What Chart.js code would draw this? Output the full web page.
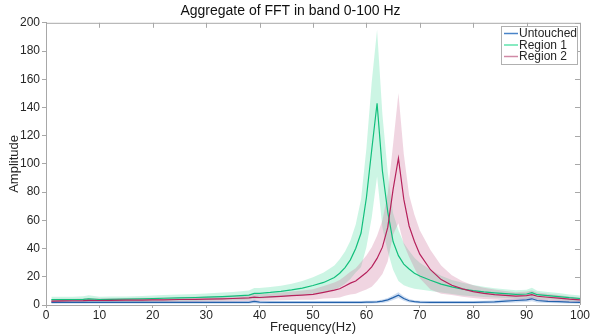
<!DOCTYPE html>
<html>
<head>
<meta charset="utf-8">
<script src="https://cdn.jsdelivr.net/npm/chart.js@4.4.0/dist/chart.umd.min.js"></script>
<style>
  html, body { margin: 0; padding: 0; background: #fff; }
  #wrap { width: 590px; height: 336px; }
</style>
</head>
<body>
<div id="wrap"><canvas id="fftChart" width="590" height="336"></canvas></div>
<script>
// datos (Hz)
const freq = [1,3,5,7,8,10,12,15,18,20,
  22,25,28,30,33,35,38,39,40,42,
  44,46,48,50,52,54,55,56,57,58,
  59,60,61,62,63,64,65,66,67,68,
  69,70,72,74,76,78,80,82,84,86,
  88,90,91,92,94,96,98,100];

const untouched = [1.8,1.8,1.8,1.8,1.9,1.8,1.8,1.8,1.8,1.8,
  1.8,1.8,1.8,1.8,1.8,1.8,1.9,2.6,2.0,1.8,
  1.8,1.8,1.8,1.8,1.8,1.8,1.8,1.8,1.9,1.9,
  1.9,2.0,2.1,2.2,2.7,3.6,5.2,7.0,4.6,3.0,
  2.4,2.1,1.9,1.9,1.9,1.9,1.9,2.0,2.2,2.8,
  3.2,3.6,4.4,3.2,2.6,2.4,2.0,1.8];
const untouchedSd = [1.0,1.0,1.0,1.0,1.0,1.0,1.0,1.0,1.0,1.0,
  1.0,1.0,1.0,1.0,1.0,1.0,1.1,1.3,1.1,1.0,
  1.0,1.0,1.0,1.0,1.0,1.0,1.0,1.0,1.0,1.0,
  1.0,1.0,1.0,1.0,1.2,1.4,1.7,2.0,1.6,1.2,
  1.0,1.0,1.0,1.0,1.0,1.0,1.0,1.0,1.1,1.3,
  1.4,1.5,1.7,1.4,1.2,1.1,1.0,1.0];

const region1 = [3.8,3.8,3.9,4.0,4.4,3.9,4.0,4.1,4.3,4.5,
  4.8,5.0,5.3,5.6,6.0,6.3,7.0,8.2,8.3,8.9,
  9.7,10.7,12.0,13.8,16.0,19.5,22.5,26.5,32,40,
  51,76,110,143,95,66,45,35,29,25.5,
  22.5,20.5,17.5,14.8,12.8,11.3,10.2,9.3,8.6,8.0,
  7.5,7.8,8.8,7.3,6.6,6.0,5.2,4.6];
const region1Sd = [2.0,2.0,2.0,2.2,2.5,2.0,2.0,2.0,2.1,2.2,
  2.3,2.4,2.5,2.6,2.8,3.0,3.2,3.8,3.8,3.9,
  4.0,4.4,5.0,5.8,7.0,8.5,10,11.5,13.5,17,
  24,35,48,52,40,28,20,18,15,13,
  11,9.5,7.5,6.0,5.0,4.5,4.0,3.6,3.3,3.1,
  2.9,3.0,3.5,2.8,2.6,2.5,2.3,2.2];

const region2 = [2.8,2.9,3.0,3.1,3.3,3.2,3.3,3.4,3.5,3.6,
  3.7,3.9,4.0,4.2,4.4,4.6,5.0,5.6,5.3,5.7,
  6.1,6.6,7.0,7.5,9.0,10.5,11.5,13.5,15.5,17,
  20,23,27,33,41,55,82,104,75,56,
  45,36,25,18,14,11.4,9.5,8.3,7.4,6.8,
  6.3,6.7,7.3,6.2,5.5,4.9,4.1,3.6];
const region2Sd = [1.5,1.5,1.5,1.5,1.6,1.5,1.5,1.5,1.6,1.6,
  1.7,1.8,1.8,1.9,2.0,2.1,2.2,2.5,2.3,2.5,
  2.7,3.0,3.3,3.7,4.4,5.5,6.2,7.0,8.0,9.0,
  10.5,12,14,16,19,24,32,46,32,22,
  19,17,14,10,7,5.5,4.5,4.0,3.5,3.1,
  2.8,2.8,3.0,2.6,2.4,2.2,2.0,1.8];

const xTicks = [0,10,20,30,40,50,60,70,80,90,100];
const yTicks = [0,20,40,60,80,100,120,140,160,180,200];

const seriesNames = ['Untouched', 'Region 1', 'Region 2'];
const lineColors = ['#2361aa', '#12bf7c', '#b6225c'];
const legendColors = ['#4a84c8', '#5fe3ad', '#d08aa6'];
const bandColors = ['rgba(110,155,215,0.35)', 'rgba(95,225,170,0.32)', 'rgba(205,115,155,0.30)'];

const fuente = '"Liberation Sans", Arial, Helvetica, sans-serif';
const colorTexto = '#262626';
const colorEje = '#a8a8a8';

function puntos(vals) {
  return freq.map((f, i) => ({ x: f, y: vals[i] }));
}

function banda(media, sd, color, orden) {
  const arriba = freq.map((f, i) => ({ x: f, y: media[i] + sd[i] }));
  const abajo = freq.map((f, i) => ({ x: f, y: Math.max(0, media[i] - sd[i]) }));
  return [
    { data: arriba, borderWidth: 0, pointRadius: 0, fill: '+1', backgroundColor: color, order: orden },
    { data: abajo, borderWidth: 0, pointRadius: 0, fill: false, order: orden }
  ];
}

function linea(media, color) {
  return { data: puntos(media), borderColor: color, borderWidth: 1.2, pointRadius: 0, fill: false, tension: 0, order: 0 };
}

const datasets = [
  ...banda(untouched, untouchedSd, bandColors[0], 3),
  ...banda(region1, region1Sd, bandColors[1], 2),
  ...banda(region2, region2Sd, bandColors[2], 1),
  linea(region2, lineColors[2]),
  linea(region1, lineColors[1]),
  linea(untouched, lineColors[0])
];

// caja tipo matlab + leyenda
const cajaPlugin = {
  id: 'caja',
  afterDraw(chart) {
    const ctx = chart.ctx;
    const a = chart.chartArea;
    const xs = chart.scales.x, ys = chart.scales.y;
    ctx.save();
    ctx.strokeStyle = colorEje;
    ctx.lineWidth = 1;
    ctx.beginPath();
    ctx.moveTo(a.left, a.top + 0.5);
    ctx.lineTo(a.right + 0.5, a.top + 0.5);
    ctx.lineTo(a.right + 0.5, a.bottom);
    xTicks.forEach(t => {
      const px = Math.round(xs.getPixelForValue(t)) + 0.5;
      ctx.moveTo(px, a.top);
      ctx.lineTo(px, a.top + 5);
    });
    yTicks.forEach(t => {
      const py = Math.round(ys.getPixelForValue(t)) + 0.5;
      ctx.moveTo(a.right, py);
      ctx.lineTo(a.right - 5, py);
    });
    ctx.stroke();

    // leyenda
    const lx = 501, ly = 26, lw = 76, lh = 38;
    ctx.fillStyle = '#fff';
    ctx.fillRect(lx, ly, lw, lh);
    ctx.strokeStyle = '#b0b0b0';
    ctx.strokeRect(lx + 0.5, ly + 0.5, lw, lh);
    ctx.font = '12px ' + fuente;
    ctx.textBaseline = 'middle';
    seriesNames.forEach((n, i) => {
      const y = ly + 7.5 + i * 11.5;
      ctx.strokeStyle = legendColors[i];
      ctx.lineWidth = 1.5;
      ctx.beginPath();
      ctx.moveTo(lx + 3, y);
      ctx.lineTo(lx + 17, y);
      ctx.stroke();
      ctx.fillStyle = colorTexto;
      ctx.fillText(n, lx + 18, y + 0.5);
    });
    ctx.restore();
  }
};

new Chart(document.getElementById('fftChart'), {
  type: 'line',
  data: { datasets: datasets },
  plugins: [cajaPlugin],
  options: {
    responsive: false,
    animation: false,
    layout: { padding: { left: 0, right: 9, top: 0, bottom: 0 } },
    plugins: {
      legend: { display: false },
      tooltip: { enabled: false },
      title: {
        display: true,
        text: 'Aggregate of FFT in band 0-100 Hz',
        color: '#111',
        font: { family: fuente, size: 14, weight: 'normal', lineHeight: 1.2 },
        padding: { top: 3, bottom: 3 }
      },
      filler: { propagate: false }
    },
    scales: {
      x: {
        type: 'linear',
        min: 0,
        max: 100,
        afterBuildTicks: s => { s.ticks = xTicks.map(v => ({ value: v })); },
        afterFit: s => { s.height = 31; },
        grid: { drawOnChartArea: false, color: colorEje, tickLength: 3 },
        border: { color: colorEje },
        ticks: { color: colorTexto, font: { family: fuente, size: 12 }, padding: 0, maxRotation: 0 },
        title: { display: true, text: 'Frequency(Hz)', color: colorTexto, font: { family: fuente, size: 13 }, padding: { top: 0, bottom: 1 } }
      },
      y: {
        min: 0,
        max: 200,
        afterBuildTicks: s => { s.ticks = yTicks.map(v => ({ value: v })); },
        afterFit: s => { s.width = 46; },
        grid: { drawOnChartArea: false, color: colorEje, tickLength: 4 },
        border: { color: colorEje },
        ticks: { color: colorTexto, font: { family: fuente, size: 12 }, padding: 2 },
        title: { display: true, text: 'Amplitude', color: colorTexto, font: { family: fuente, size: 13 }, padding: { top: 7, bottom: 0 } }
      }
    }
  }
});
</script>
</body>
</html>
